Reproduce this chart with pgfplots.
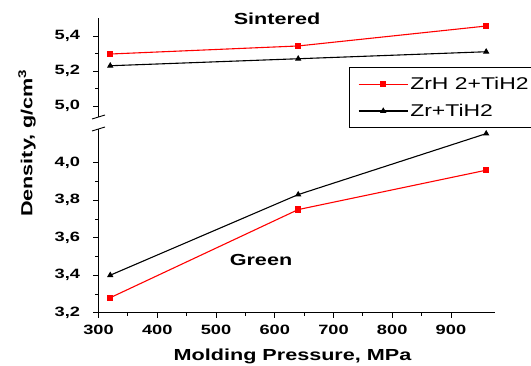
\documentclass[border=0pt]{standalone}
\usepackage{fontspec}
\setmainfont{Liberation Sans}
\newfontfamily\wide[FakeStretch=1.35]{Liberation Sans}
\usepackage{pgfplots}
\pgfplotsset{compat=1.18}

\begin{document}
\begin{tikzpicture}
\pgfplotsset{
 brk/.style={scale only axis, width=396.5pt, xmin=300, xmax=975, anchor=south west,
   axis y line*=left, tick align=outside, major tick length=5pt, minor tick length=3pt,
   minor y tick num=1,
   every axis plot/.append style={line width=1.1pt},
   ticklabel style={font=\wide\bfseries\fontsize{13.5}{14}\selectfont},
   /pgf/number format/assume math mode=true,
   yticklabel style={xshift=-10pt,/pgf/number format/.cd, fixed, fixed zerofill, precision=1, use comma},
   axis line style={line width=1pt, -},
   every tick/.style={black, line width=0.8pt},
   clip=false}
}
% lower (green) segment
\begin{axis}[brk, at={(98.5pt,52.3pt)}, height=183.75pt, ymin=3.2, ymax=4.18,
  axis x line*=bottom, xtick={300,400,...,900}, minor x tick num=1,
  xticklabel style={yshift=-4pt},
  ytick={3.2,3.4,3.6,3.8,4.0}]
\addplot[red, mark=square*, mark size=2.6pt] coordinates {(320,3.28) (640,3.75) (960,3.96)};
\addplot[black, mark=triangle*, mark size=2.6pt] coordinates {(320,3.40) (640,3.83) (960,4.155)};
\end{axis}
% upper (sintered) segment
\begin{axis}[brk, at={(98.5pt,248pt)}, height=98.5pt, ymin=4.937, ymax=5.5,
  axis x line=none, xtick=\empty,
  ytick={5.0,5.2,5.4},
  legend cell align=left,
  legend style={at={(0.631,0.51)}, anchor=north west, draw=black, line width=1pt,
    font=\wide\fontsize{17}{19}\selectfont, inner xsep=9pt, inner ysep=8pt, row sep=9pt},
  legend image code/.code={\draw[mark repeat=2,mark phase=2,#1] plot coordinates {(0pt,0pt) (24.5pt,0pt) (49pt,0pt)};}]
\addplot[red, mark=square*, mark size=2.6pt] coordinates {(320,5.297) (640,5.343) (960,5.457)};
\addplot[black, mark=triangle*, mark size=2.6pt] coordinates {(320,5.23) (640,5.27) (960,5.31)};
\legend{ZrH 2+TiH2, Zr+TiH2}
\end{axis}
% axis break marks
\draw[line width=0.9pt] (92pt,246pt) -- (105pt,250pt);
\draw[line width=0.9pt] (92pt,234pt) -- (105pt,238pt);
\node[font=\wide\bfseries\fontsize{16}{18}\selectfont] at (277pt,346pt) {Sintered};
\node[font=\wide\bfseries\fontsize{16}{18}\selectfont] at (261pt,105pt) {Green};
\node[font=\wide\bfseries\fontsize{16}{18}\selectfont, rotate=90] at (27pt,222pt) {Density, g/cm\textsuperscript{3}};
\node[font=\wide\bfseries\fontsize{16}{18}\selectfont] at (292.5pt,9pt) {Molding Pressure, MPa};
\pgfresetboundingbox
\path[use as bounding box] (0pt,0pt) rectangle (531pt,365pt);
\end{tikzpicture}
\end{document}
